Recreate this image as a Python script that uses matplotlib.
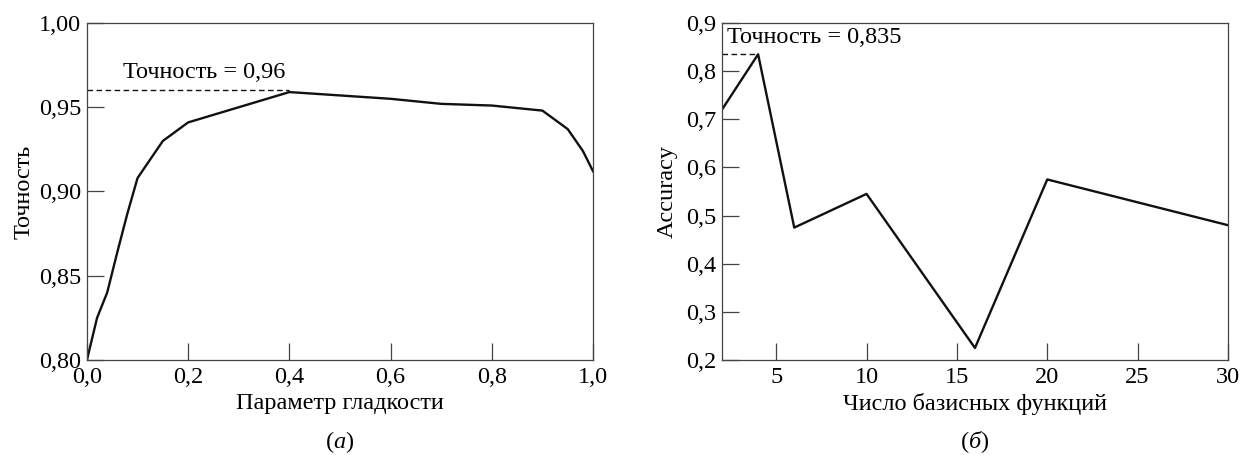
import matplotlib
matplotlib.use("Agg")
import matplotlib.pyplot as plt

plt.rcParams['font.family'] = ['Liberation Serif', 'DejaVu Serif']
plt.rcParams['mathtext.fontset'] = 'custom'
plt.rcParams['mathtext.it'] = 'Liberation Serif:italic'
plt.rcParams['mathtext.rm'] = 'Liberation Serif'

# Left panel data: smoothing parameter vs accuracy
smooth_x = [0.0, 0.02, 0.04, 0.06, 0.08, 0.10, 0.15, 0.20, 0.30, 0.40, 0.60, 0.70, 0.80, 0.90, 0.95, 0.98, 1.00]
smooth_y = [0.800, 0.825, 0.840, 0.864, 0.887, 0.908, 0.930, 0.941, 0.950, 0.959, 0.955, 0.952, 0.951, 0.948, 0.937, 0.924, 0.912]
left_best = 0.96
left_best_x = 0.4
left_xticks = [0.0, 0.2, 0.4, 0.6, 0.8, 1.0]
left_xticklabels = ['0,0', '0,2', '0,4', '0,6', '0,8', '1,0']
left_yticks = [0.80, 0.85, 0.90, 0.95, 1.00]
left_yticklabels = ['0,80', '0,85', '0,90', '0,95', '1,00']

# Right panel data: number of basis functions vs accuracy
basis_x = [2, 4, 6, 10, 16, 20, 30]
basis_y = [0.72, 0.835, 0.475, 0.545, 0.225, 0.575, 0.48]
right_best = 0.835
right_best_x = 4
right_xticks = [5, 10, 15, 20, 25, 30]
right_xticklabels = ['5', '10', '15', '20', '25', '30']
right_yticks = [0.2, 0.3, 0.4, 0.5, 0.6, 0.7, 0.8, 0.9]
right_yticklabels = ['0,2', '0,3', '0,4', '0,5', '0,6', '0,7', '0,8', '0,9']

FS = 17.5
fig = plt.figure(figsize=(12.42, 4.55), dpi=100)
axL = fig.add_axes([0.0700, 0.2088, 0.4075, 0.7407])
axR = fig.add_axes([0.5813, 0.2088, 0.4074, 0.7407])

spine_col = '#444444'
for ax in (axL, axR):
    for s in ax.spines.values():
        s.set_linewidth(0.9)
        s.set_color(spine_col)
    ax.tick_params(axis='both', direction='in', length=12, width=0.9, color=spine_col,
                   labelsize=FS, top=False, right=False)
    ax.tick_params(axis='x', pad=5)
    ax.tick_params(axis='y', pad=4)

# Left panel
axL.plot(smooth_x, smooth_y, color='#111111', lw=1.7)
axL.plot([0, left_best_x], [left_best, left_best], color='#111111', lw=1.0, ls=(0, (4, 2.5)))
axL.text(0.072, 0.9705, 'Точность = 0,96', fontsize=FS, va='center', ha='left')
axL.set_xlim(0, 1.0)
axL.set_ylim(0.80, 1.00)
axL.set_xticks(left_xticks)
axL.set_xticklabels(left_xticklabels)
axL.set_yticks(left_yticks)
axL.set_yticklabels(left_yticklabels)
axL.set_xlabel('Параметр гладкости', fontsize=FS, labelpad=4)
axL.set_ylabel('Точность', fontsize=FS, labelpad=3)

# Right panel
axR.plot(basis_x, basis_y, color='#111111', lw=1.7)
axR.plot([2, right_best_x], [right_best, right_best], color='#111111', lw=1.0, ls=(0, (4, 2.5)))
axR.text(2.3, 0.869, 'Точность = 0,835', fontsize=FS, va='center', ha='left')
axR.set_xlim(2, 30)
axR.set_ylim(0.2, 0.9)
axR.set_xticks(right_xticks)
axR.set_xticklabels(right_xticklabels)
axR.set_yticks(right_yticks)
axR.set_yticklabels(right_yticklabels)
axR.set_xlabel('Число базисных функций', fontsize=FS, labelpad=4)
axR.set_ylabel('Accuracy', fontsize=FS, labelpad=6)

fig.text(0.0700 + 0.4075 / 2, 1 - 442 / 455, '(' + r'$\mathit{а}$' + ')', fontsize=FS, ha='center', va='center')
fig.text(0.5813 + 0.4074 / 2, 1 - 442 / 455, '(' + r'$\mathit{б}$' + ')', fontsize=FS, ha='center', va='center')

fig.savefig('out.png', dpi=100)
